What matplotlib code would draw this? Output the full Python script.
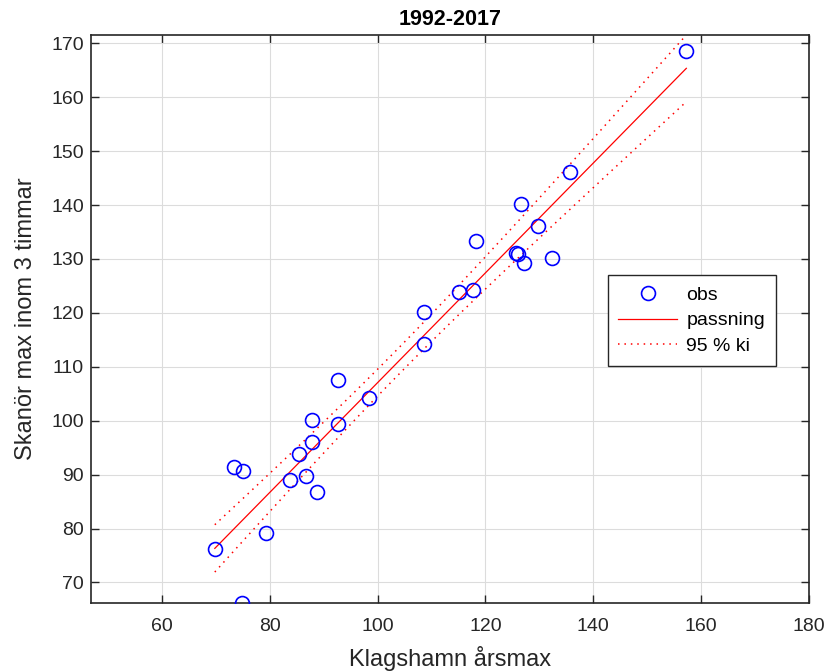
import numpy as np
import matplotlib.pyplot as plt

plt.rcParams['font.family'] = ['Liberation Sans', 'DejaVu Sans']

klagshamn = [69.8, 73.4, 75.0, 74.9, 79.3, 83.8, 85.4, 87.9, 87.9, 86.7,
             88.8, 92.7, 92.7, 98.4, 108.7, 108.7, 115.2, 117.8, 118.3,
             125.6, 126.0, 127.2, 126.7, 129.8, 132.4, 135.8, 157.3]
skanor = [76.2, 91.4, 90.6, 66.2, 79.1, 89.1, 93.8, 96.1, 100.1, 89.7,
          86.8, 99.4, 107.5, 104.3, 114.2, 120.2, 123.9, 124.2, 133.3,
          131.1, 130.9, 129.2, 140.2, 136.2, 130.1, 146.2, 168.6]

x = np.array(klagshamn)
y = np.array(skanor)
n = len(x)

# linear fit and 95 % confidence band of the fitted line
b, a = np.polyfit(x, y, 1)
res = y - (a + b * x)
s = np.sqrt(np.sum(res**2) / (n - 2))
t = 2.0595  # t(0.975, n-2)
xf = np.linspace(x.min(), x.max(), 100)
yf = a + b * xf
half = t * s * np.sqrt(1 / n + (xf - x.mean())**2 / np.sum((x - x.mean())**2))

fig = plt.figure(figsize=(8.26, 6.72), dpi=100)
ax = fig.add_axes([0.110, 0.1027, 0.869, 0.8453])

dot = (0, (1, 3.2))
ax.plot(x, y, 'o', mfc='none', mec='#0000ff', ms=10, mew=1.2, label='obs', zorder=3)
ax.plot(xf, yf, '-', color='#ff0000', lw=0.9, label='passning')
ax.plot(xf, yf + half, ls=dot, color='#ff0000', lw=1.1, label='95 % ki')
ax.plot(xf, yf - half, ls=dot, color='#ff0000', lw=1.1)

ax.set_xlim(46.8, 180)
ax.set_ylim(y.min(), (yf + half).max())
ax.set_xticks(np.arange(60, 181, 20))
ax.set_yticks(np.arange(70, 171, 10))
ax.grid(True, color='#dcdcdc', lw=0.8)
ax.set_axisbelow(True)
ax.tick_params(direction='in', top=True, right=True, length=6, width=1,
               labelsize=14, colors='#262626')
ax.tick_params(axis='x', pad=11)
ax.tick_params(axis='y', pad=5)
for sp in ax.spines.values():
    sp.set_color('#262626')
    sp.set_linewidth(1.2)

ax.set_xlabel('Klagshamn årsmax', fontsize=17, color='#262626', labelpad=8)
ax.set_ylabel('Skanör max inom 3 timmar', fontsize=17, color='#262626', labelpad=10)
ax.set_title('1992-2017', fontsize=15.5, fontweight='bold', pad=7)

leg = ax.legend(loc='upper left', bbox_to_anchor=(0.72, 0.577), fontsize=14,
                fancybox=False, framealpha=1, edgecolor='#262626',
                handlelength=3.0, borderpad=0.55, labelspacing=0.42,
                handletextpad=0.5, borderaxespad=0)
leg.get_frame().set_linewidth(1.0)

plt.savefig('out.png', dpi=100)
